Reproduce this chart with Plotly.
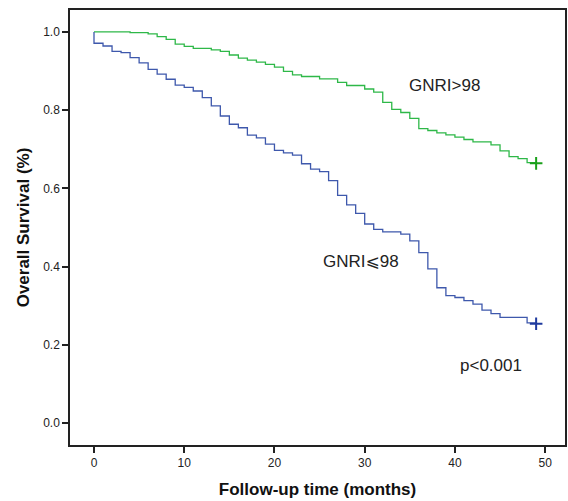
import plotly.graph_objects as go

# Kaplan-Meier step data (months, survival proportion)
high_t = [0, 4, 6, 7, 8, 9, 10, 11, 13, 14, 15, 16, 17, 18, 19, 20, 21, 22, 23, 25, 27, 28,
          30, 31, 32, 33, 34, 35, 36, 37, 38, 39, 40, 41, 42, 44, 45, 46, 47, 48, 49]
high_s = [1.0, 0.998, 0.995, 0.988, 0.981, 0.969, 0.963, 0.958, 0.954, 0.950, 0.941, 0.933,
          0.928, 0.923, 0.917, 0.910, 0.899, 0.890, 0.886, 0.880, 0.871, 0.863, 0.854, 0.846,
          0.820, 0.802, 0.794, 0.779, 0.753, 0.748, 0.742, 0.737, 0.731, 0.725, 0.719, 0.711,
          0.696, 0.681, 0.676, 0.666, 0.664]

low_t = [0, 0, 1, 2, 3, 4, 5, 6, 7, 8, 9, 10, 11, 12, 13, 14, 15, 16, 17, 18, 19, 20, 21, 22,
         23, 24, 25, 26, 27, 28, 29, 30, 31, 32, 34, 35, 36, 37, 38, 39, 40, 41, 42, 43, 44,
         45, 48, 49]
low_s = [1.0, 0.971, 0.964, 0.950, 0.947, 0.934, 0.921, 0.904, 0.892, 0.879, 0.864, 0.858,
         0.849, 0.832, 0.811, 0.785, 0.764, 0.755, 0.736, 0.729, 0.713, 0.697, 0.691, 0.685,
         0.663, 0.649, 0.643, 0.620, 0.582, 0.558, 0.536, 0.509, 0.495, 0.489, 0.483, 0.466,
         0.436, 0.394, 0.346, 0.326, 0.321, 0.313, 0.304, 0.289, 0.280, 0.270, 0.256, 0.254]

x_ticks = [0, 10, 20, 30, 40, 50]
y_ticks = [0.0, 0.2, 0.4, 0.6, 0.8, 1.0]

green = "#2eb848"
blue = "#3e58ac"

fig = go.Figure()
fig.add_trace(go.Scatter(x=high_t, y=high_s, mode="lines", line_shape="hv",
                         line=dict(color=green, width=1.3), showlegend=False))
fig.add_trace(go.Scatter(x=low_t, y=low_s, mode="lines", line_shape="hv",
                         line=dict(color=blue, width=1.3), showlegend=False))
# censor marks at the end of each curve
fig.add_trace(go.Scatter(x=[high_t[-1]], y=[high_s[-1]], mode="markers",
                         marker=dict(symbol="cross-thin", size=9, line=dict(color="#1aa01a", width=2)),
                         showlegend=False))
fig.add_trace(go.Scatter(x=[low_t[-1]], y=[low_s[-1]], mode="markers",
                         marker=dict(symbol="cross-thin", size=9, line=dict(color="#1f3a9e", width=2)),
                         showlegend=False))

txt = dict(family="Liberation Sans, Arial, DejaVu Sans", size=17, color="#222")
fig.add_annotation(x=38.8, y=0.864, text="GNRI>98", showarrow=False, font=txt)
fig.add_annotation(x=29.6, y=0.412, text="GNRI⩽98", showarrow=False, font=txt)
fig.add_annotation(x=44.0, y=0.146, text="p<0.001", showarrow=False, font=txt)

axis_common = dict(showline=True, linecolor="#222", linewidth=1.5, mirror=True,
                   ticks="outside", ticklen=6, tickwidth=1.5, tickcolor="#222",
                   showgrid=False, zeroline=False, automargin=False,
                   tickfont=dict(family="Liberation Sans, Arial", size=12, color="#222"))

fig.update_xaxes(range=[-2.66, 52.2], tickvals=x_ticks,
                 title=dict(text="<b>Follow-up time (months)</b>", standoff=14,
                            font=dict(family="Liberation Sans, Arial", size=17, color="#111")),
                 **axis_common)
fig.update_yaxes(range=[-0.056, 1.056], tickvals=y_ticks, tickformat=".1f",
                 title=dict(text="<b>Overall Survival (%)</b>", standoff=9,
                            font=dict(family="Liberation Sans, Arial", size=17, color="#111")),
                 **axis_common)

fig.update_layout(width=568, height=501, plot_bgcolor="white", paper_bgcolor="white",
                  margin=dict(l=70, r=3, t=10, b=56))

# drop the browser's default page margin so the figure sits at the window's corner
fig.write_html("out.html", config={"displayModeBar": False},
               post_script="document.body.style.margin='0';")
